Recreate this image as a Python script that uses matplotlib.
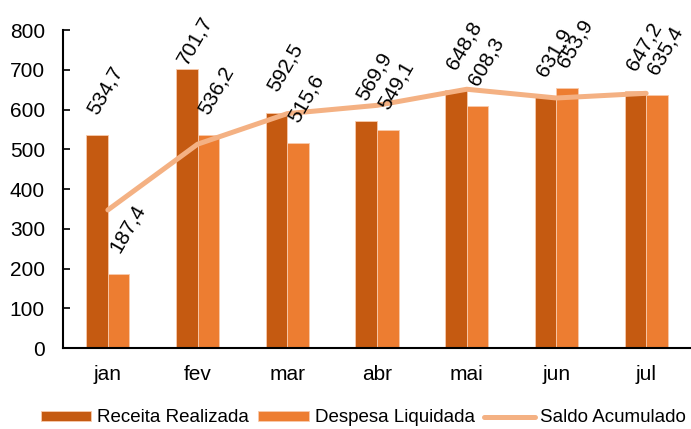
import numpy as np
import matplotlib
matplotlib.use("Agg")
import matplotlib.pyplot as plt

plt.rcParams["font.family"] = ["Liberation Sans", "DejaVu Sans"]

meses = ["jan", "fev", "mar", "abr", "mai", "jun", "jul"]
receita = [534.7, 701.7, 592.5, 569.9, 648.8, 631.9, 647.2]
despesa = [187.4, 536.2, 515.6, 549.1, 608.3, 653.9, 635.4]
saldo = [347.3, 512.8, 589.7, 610.5, 651.0, 629.0, 640.8]

c_rec = "#C55A11"
c_desp = "#ED7D31"
c_saldo = "#F4B183"


def fmt(v):
    return f"{v:.1f}".replace(".", ",")


fig = plt.figure(figsize=(6.91, 4.29), dpi=100)
ax = fig.add_axes([0.0912, 0.1888, 0.9088, 0.7412])

x = np.arange(len(meses))
w = 0.24
b1 = ax.bar(x - w / 2, receita, w, color=c_rec, edgecolor="#F8CBAD", linewidth=0.6,
            label="Receita Realizada", zorder=2)
b2 = ax.bar(x + w / 2, despesa, w, color=c_desp, edgecolor="#F8CBAD", linewidth=0.6,
            label="Despesa Liquidada", zorder=2)
l1, = ax.plot(x, saldo, color=c_saldo, lw=3.6, solid_capstyle="round",
              label="Saldo Acumulado", zorder=3)

# rotated value labels above each bar (kept inside the plot like Excel does)
for xs, vals in ((x - w / 2, receita), (x + w / 2, despesa)):
    for xi, v in zip(xs, vals):
        ax.text(xi + 0.04, min(v + 44, 706), fmt(v), rotation=60,
                rotation_mode="anchor", ha="left", va="bottom",
                fontsize=15, zorder=4, clip_on=False)

ax.set_xlim(-0.5, 6.5)
ax.set_ylim(0, 800)
ax.set_yticks(np.arange(0, 801, 100))
ax.set_xticks(x)
ax.set_xticklabels(meses)
for s in ("top", "right"):
    ax.spines[s].set_visible(False)
for s in ("left", "bottom"):
    ax.spines[s].set_linewidth(1.5)
ax.tick_params(axis="y", direction="in", length=5, width=1.2, pad=13, labelsize=15)
ax.tick_params(axis="x", length=0, pad=12, labelsize=15)

fig.legend([b1, b2, l1], ["Receita Realizada", "Despesa Liquidada", "Saldo Acumulado"],
           loc="center", bbox_to_anchor=(0.526, 0.026), ncol=3,
           frameon=False, fontsize=13.5, handlelength=2.7, handleheight=0.43,
           handletextpad=0.3, columnspacing=0.5, borderpad=0, borderaxespad=0)

fig.savefig("out.png", dpi=100)
plt.close(fig)
